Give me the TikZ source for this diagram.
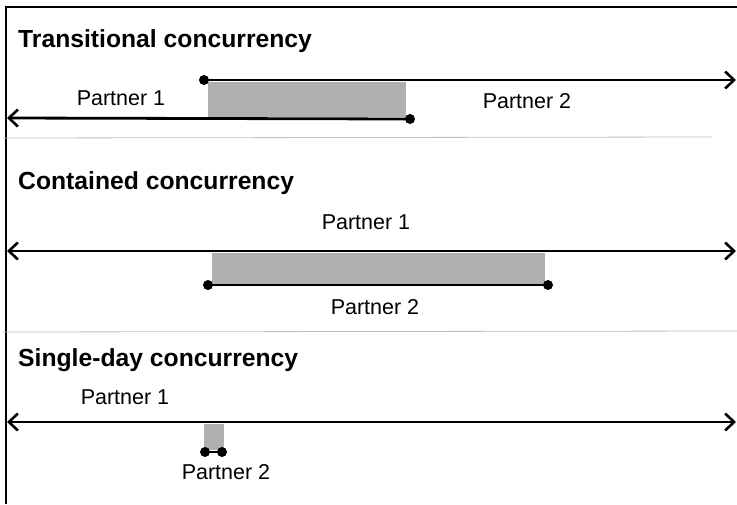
\documentclass[tikz,border=0pt]{standalone}
\usepackage{fontspec}
\setmainfont{Liberation Sans}
\usetikzlibrary{arrows.meta}
\begin{document}
\begin{tikzpicture}[x=1pt,y=-1pt,
  title/.style={anchor=west,font=\fontsize{24.7}{27}\selectfont\bfseries,inner sep=0pt},
  lab/.style={font=\fontsize{21.5}{23}\selectfont,inner sep=0pt},
  timeline/.style={line width=2.8pt,black},
  barb/.style={-{Straight Barb[length=9pt,width=17pt,line width=2.6pt]}},
  dbarb/.style={{Straight Barb[length=9pt,width=17pt,line width=2.6pt]}-{Straight Barb[length=9pt,width=17pt,line width=2.6pt]}},
  dot/.style={circle,fill=black,inner sep=0pt,minimum size=10pt},
  overlap/.style={fill=black!31,draw=none},
  sep/.style={draw=black!25,line width=0.8pt}]
\useasboundingbox (0,0) rectangle (737,504);
% frame
\coordinate (ftl) at (6,7);
\coordinate (ftr) at (737,7);
\coordinate (fbl) at (6,504);
\draw[line width=1.5pt] (ftr) -- (ftl) -- (fbl);
% separators
\coordinate (s1a) at (3,138); \coordinate (s1b) at (712,137);
\coordinate (s2a) at (3,332); \coordinate (s2b) at (737,331);
\draw[sep] (s1a) -- (s1b);
\draw[sep] (s2a) -- (s2b);

% ---- Section 1
\node[title] (t1) at (18,41) {Transitional concurrency};
\fill[overlap] (208,82) rectangle (406,117);
\node[dot] (d1a) at (204,80) {};
\coordinate (e1a) at (736,80);
\draw[timeline,barb] (d1a.center) -- (e1a);
\node[dot] (d1b) at (410,119) {};
\coordinate (e1b) at (7,118);
\draw[timeline,barb] (d1b.center) -- (e1b);
\node[lab] (p11) at (121,98) {Partner 1};
\node[lab] (p12) at (527,101) {Partner 2};

% ---- Section 2
\node[title] (t2) at (18,183) {Contained concurrency};
\node[lab] (p21) at (366,222) {Partner 1};
\fill[overlap] (212,253) rectangle (545,284);
\coordinate (e2a) at (7,251);
\coordinate (e2b) at (736,251);
\draw[timeline,dbarb] (e2a) -- (e2b);
\node[dot] (d2a) at (208,285) {};
\node[dot] (d2b) at (548,285) {};
\draw[timeline] (d2a.center) -- (d2b.center);
\node[lab] (p22) at (375,307) {Partner 2};

% ---- Section 3
\node[title] (t3) at (18,360) {Single-day concurrency};
\node[lab] (p31) at (125,397) {Partner 1};
\fill[overlap] (204,424) rectangle (224,450);
\coordinate (e3a) at (7,422);
\coordinate (e3b) at (736,422);
\draw[timeline,dbarb] (e3a) -- (e3b);
\node[dot] (d3a) at (205,452) {};
\node[dot] (d3b) at (222,452) {};
\draw[timeline] (d3a.center) -- (d3b.center);
\node[lab] (p32) at (226,472) {Partner 2};
\end{tikzpicture}
\end{document}
